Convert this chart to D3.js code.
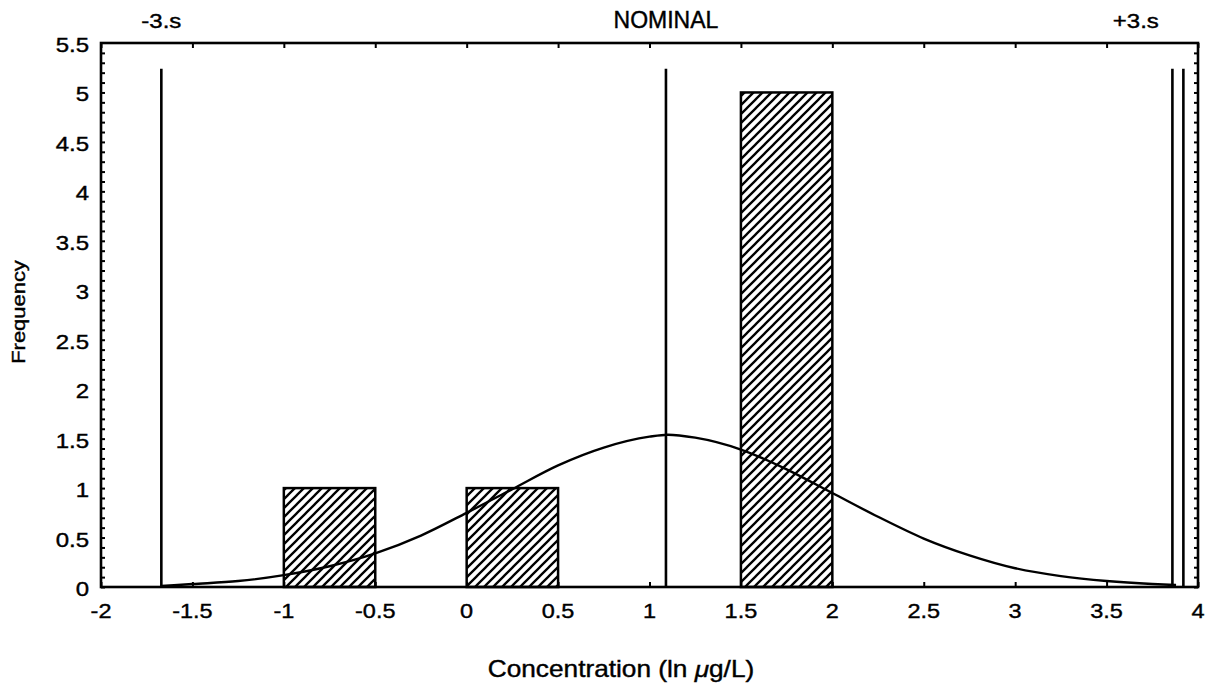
<!DOCTYPE html>
<html>
<head>
<meta charset="utf-8">
<script src="https://cdn.jsdelivr.net/npm/d3@7"></script>
<style>
  body { margin: 0; background: #fff; }
  text { font-family: "Liberation Sans", Arial, sans-serif; fill: #000; stroke: #000; stroke-width: 0.4px; }
</style>
</head>
<body>
<svg id="chart" width="1213" height="690"></svg>
<script>

// Data

var binStarts = [-1, 0, 1.5],
    binEnds   = [-0.5, 0.5, 2],
    binCounts = [1, 1, 5];

// fitted normal curve, read at steps along x
var curveX = [-1.67, -1.5, -1.25, -1, -0.75, -0.5, -0.25, 0, 0.25, 0.5, 0.75, 1, 1.1, 1.25, 1.5, 1.75, 2, 2.25, 2.5, 2.75, 3, 3.25, 3.5, 3.75, 3.88],
    curveY = [0.01, 0.03, 0.06, 0.12, 0.21, 0.34, 0.52, 0.75, 0.99, 1.23, 1.41, 1.52, 1.54, 1.51, 1.39, 1.19, 0.95, 0.71, 0.49, 0.32, 0.19, 0.11, 0.06, 0.03, 0.02];

var refLabels = ["-3.s", "NOMINAL", "+3.s"],
    refLabelX = [-1.67, 1.09, 3.66],
    refLines  = [-1.67, 1.09, 3.86, 3.92];

var xTicks = [-2, -1.5, -1, -0.5, 0, 0.5, 1, 1.5, 2, 2.5, 3, 3.5, 4],
    yTicks = [0, 0.5, 1, 1.5, 2, 2.5, 3, 3.5, 4, 4.5, 5, 5.5];

// Layout (plot box edges)

var pLeft = 101, pRight = 1198, pTop = 43, pBottom = 587;

var svg = d3.select("#chart");

var x = d3.scaleLinear().domain([-2, 4]).range([pLeft, pRight]),
    y = d3.scaleLinear().domain([0, 5.5]).range([pBottom, pTop]);

// hatch pattern for the bars
var defs = svg.append("defs");
defs.append("pattern")
    .attr("id", "hatch")
    .attr("patternUnits", "userSpaceOnUse")
    .attr("width", 9)
    .attr("height", 9)
  .append("path")
    .attr("d", "M-1,1 l2,-2 M0,9 l9,-9 M8,10 l2,-2")
    .attr("stroke", "#000")
    .attr("stroke-width", 2.3);

// bars
svg.selectAll(".bar")
    .data(binCounts)
    .enter()
    .append("rect")
    .attr("class", "bar")
    .attr("x", function(d, i) { return x(binStarts[i]); })
    .attr("y", function(d) { return y(d); })
    .attr("width", function(d, i) { return x(binEnds[i]) - x(binStarts[i]); })
    .attr("height", function(d) { return y(0) - y(d); })
    .style("fill", "url(#hatch)")
    .style("stroke", "#000")
    .style("stroke-width", 2.5);

// reference lines
svg.selectAll(".ref")
    .data(refLines)
    .enter()
    .append("line")
    .attr("class", "ref")
    .attr("x1", function(d) { return x(d); })
    .attr("x2", function(d) { return x(d); })
    .attr("y1", y(5.24))
    .attr("y2", y(0))
    .style("stroke", "#000")
    .style("stroke-width", 2.6);

// normal curve
var line = d3.line()
    .x(function(d, i) { return x(curveX[i]); })
    .y(function(d) { return y(d); })
    .curve(d3.curveMonotoneX);

svg.append("path")
    .datum(curveY)
    .attr("d", line)
    .style("fill", "none")
    .style("stroke", "#000")
    .style("stroke-width", 2.4);

// axes - ticks pointing inward, no labels on top / right
var minorY = d3.range(0, 55).map(function(i) { return i / 10; });

svg.append("g")
    .attr("transform", "translate(0," + pBottom + ")")
    .call(d3.axisTop(x).tickValues(xTicks).tickSize(5).tickFormat(""));

svg.append("g")
    .attr("transform", "translate(0," + pTop + ")")
    .call(d3.axisBottom(x).tickValues(xTicks).tickSize(5).tickFormat(""));

svg.append("g")
    .attr("transform", "translate(" + pLeft + ",0)")
    .call(d3.axisRight(y).tickValues(minorY).tickSize(4).tickFormat(""));

svg.append("g")
    .attr("transform", "translate(" + pRight + ",0)")
    .call(d3.axisLeft(y).tickValues(minorY).tickSize(4).tickFormat(""));

svg.selectAll(".domain").remove();
svg.selectAll(".tick line").style("stroke", "#000").style("stroke-width", 2);

// frame
svg.append("rect")
    .attr("x", pLeft)
    .attr("y", pTop)
    .attr("width", pRight - pLeft)
    .attr("height", pBottom - pTop)
    .style("fill", "none")
    .style("stroke", "#000")
    .style("stroke-width", 2.6);

// tick labels (the scan is a bit wider than the font, hence the x scale)
svg.selectAll(".xlab")
    .data(xTicks)
    .enter()
    .append("text")
    .attr("class", "xlab")
    .attr("transform", function(d) { return "translate(" + x(d) + ",618) scale(1.12,1)"; })
    .style("text-anchor", "middle")
    .style("font-size", "21px")
    .text(function(d) { return String(d); });

svg.selectAll(".ylab")
    .data(yTicks)
    .enter()
    .append("text")
    .attr("class", "ylab")
    .attr("transform", function(d) { return "translate(89," + (y(d) + 2) + ") scale(1.2,1)"; })
    .attr("dy", ".35em")
    .style("text-anchor", "end")
    .style("font-size", "20px")
    .text(function(d) { return String(d); });

// labels over the reference lines
svg.selectAll(".reflab")
    .data(refLabels)
    .enter()
    .append("text")
    .attr("class", "reflab")
    .attr("transform", function(d, i) {
      return "translate(" + x(refLabelX[i]) + ",28) scale(" + (i == 1 ? 1 : 1.2) + ",1)";
    })
    .style("text-anchor", "middle")
    .style("font-size", function(d, i) { return i == 1 ? "23px" : "20px"; })
    .text(function(d) { return d; });

// axis titles
var xt = svg.append("text")
    .attr("transform", "translate(621,677) scale(1.14,1)")
    .style("text-anchor", "middle")
    .style("font-size", "23px");
xt.append("tspan").text("Concentration (ln ");
xt.append("tspan").style("font-style", "italic").text("\u03bc");
xt.append("tspan").text("g/L)");

svg.append("text")
    .attr("transform", "translate(25,312) rotate(-90) scale(1.22,1)")
    .style("text-anchor", "middle")
    .style("font-size", "18px")
    .text("Frequency");

</script>
</body>
</html>
